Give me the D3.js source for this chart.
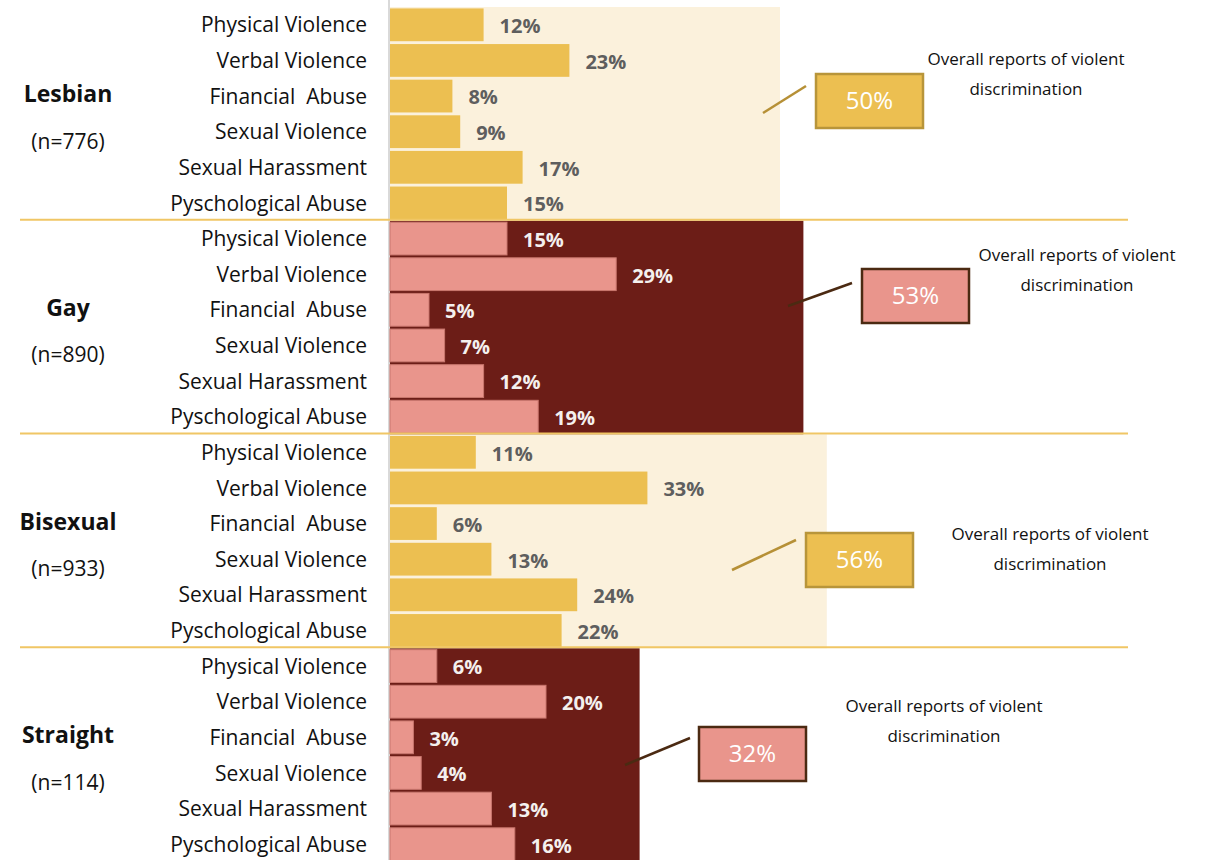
<!DOCTYPE html>
<meta charset="utf-8">
<style>
body {
  margin: 0;
  background: #ffffff;
  font-family: 'Open Sans', sans-serif;
}
svg {
  display: block;
}
text.cat {
  font-size: 21px;
  fill: #111111;
  white-space: pre;
}
text.group {
  font-size: 23px;
  font-weight: 700;
  fill: #111111;
}
text.n {
  font-size: 21px;
  fill: #111111;
}
text.value {
  font-size: 20px;
  font-weight: 700;
}
text.big {
  font-size: 24px;
  fill: #ffffff;
}
text.note {
  font-size: 17px;
  fill: #111111;
}
</style>
<body>
<svg width="1212" height="860"></svg>

<script src="https://d3js.org/d3.v7.min.js"></script>
<script>

    const categories = ["Physical Violence", "Verbal Violence", "Financial  Abuse",
                        "Sexual Violence", "Sexual Harassment", "Pyschological Abuse"];
    const groups = ["Lesbian", "Gay", "Bisexual", "Straight"];
    const sampleSizes = ["(n=776)", "(n=890)", "(n=933)", "(n=114)"];

    const lesbian = [12, 23, 8, 9, 17, 15];
    const gay = [15, 29, 5, 7, 12, 19];
    const bisexual = [11, 33, 6, 13, 24, 22];
    const straight = [6, 20, 3, 4, 13, 16];
    const overall = [50, 53, 56, 32];
    const noteLines = ["Overall reports of violent", "discrimination"];

    const series = [lesbian, gay, bisexual, straight];

    // layout of the callout boxes (not data)
    const callouts = [
      { bx: 816, by: 74, l: [763, 113, 806, 86], tx: 1026, ty: 60 },
      { bx: 862, by: 269, l: [788, 306, 852, 283], tx: 1077, ty: 256 },
      { bx: 806, by: 533, l: [732, 570, 796, 540], tx: 1050, ty: 535 },
      { bx: 699, by: 727, l: [625, 765, 690, 738], tx: 944, ty: 707 }
    ];

    const gold = '#ECBF51', cream = '#FBF1DC';
    const pink = '#E9958C', maroon = '#6C1D17';

    const svg = d3.select('svg');

    const rows = [];
    groups.forEach((g, gi) => {
      categories.forEach((c, ci) => {
        rows.push({ key: g + '|' + c, group: gi, cat: c, value: series[gi][ci] });
      });
    });

    const x = d3.scaleLinear()
      .domain([0, 100])
      .range([390, 390 + 780]);

    const y = d3.scaleBand()
      .domain(rows.map(d => d.key))
      .range([7, 862])
      .paddingInner(0.08)
      .paddingOuter(0.04);

    const gy = d3.scaleBand()
      .domain(groups)
      .range([7, 862]);

    // group backgrounds = overall share
    svg.append('g')
      .selectAll('rect')
      .data(groups)
      .join('rect')
      .attr('x', x(0))
      .attr('y', d => gy(d))
      .attr('width', (d, i) => x(overall[i]) - x(0))
      .attr('height', gy.bandwidth())
      .attr('fill', (d, i) => i % 2 ? maroon : cream);

    // axis line
    svg.append('line')
      .attr('x1', x(0) - 1).attr('x2', x(0) - 1)
      .attr('y1', 0).attr('y2', 860)
      .attr('stroke', '#D9D9D9')
      .attr('stroke-width', 2);

    // bars
    svg.append('g')
      .selectAll('rect')
      .data(rows)
      .join('rect')
      .attr('x', x(0))
      .attr('y', d => y(d.key))
      .attr('width', d => x(d.value) - x(0))
      .attr('height', y.bandwidth())
      .attr('fill', d => d.group % 2 ? pink : gold)
      .attr('stroke', d => d.group % 2 ? '#C9776E' : 'none')
      .attr('stroke-width', 1);

    // value labels
    svg.append('g')
      .selectAll('text')
      .data(rows)
      .join('text')
      .attr('class', 'value')
      .attr('x', d => x(d.value) + 16)
      .attr('y', d => y(d.key) + y.bandwidth() / 2 + 3)
      .attr('dominant-baseline', 'middle')
      .attr('fill', d => d.group % 2 ? '#F4F0EE' : '#5E5E5E')
      .text(d => d.value + '%');

    // category labels
    svg.append('g')
      .selectAll('text')
      .data(rows)
      .join('text')
      .attr('class', 'cat')
      .attr('x', 367)
      .attr('y', d => y(d.key) + y.bandwidth() / 2 + 2)
      .attr('text-anchor', 'end')
      .attr('dominant-baseline', 'middle')
      .text(d => d.cat);

    // group separators
    svg.append('g')
      .selectAll('line')
      .data(groups.slice(1))
      .join('line')
      .attr('x1', 20).attr('x2', 1128)
      .attr('y1', d => gy(d) - 1)
      .attr('y2', d => gy(d) - 1)
      .attr('stroke', '#F0C665')
      .attr('stroke-width', 2);

    // group names
    const gl = svg.append('g')
      .selectAll('g')
      .data(groups)
      .join('g')
      .attr('transform', d => `translate(68, ${gy(d) + gy.bandwidth() / 2})`);

    gl.append('text')
      .attr('class', 'group')
      .attr('y', -18)
      .attr('text-anchor', 'middle')
      .attr('dominant-baseline', 'middle')
      .text(d => d);

    gl.append('text')
      .attr('class', 'n')
      .attr('y', 29)
      .attr('text-anchor', 'middle')
      .attr('dominant-baseline', 'middle')
      .text((d, i) => sampleSizes[i]);

    // callouts
    const co = svg.append('g')
      .selectAll('g')
      .data(callouts)
      .join('g');

    co.append('line')
      .attr('x1', d => d.l[0]).attr('y1', d => d.l[1])
      .attr('x2', d => d.l[2]).attr('y2', d => d.l[3])
      .attr('stroke', (d, i) => i % 2 ? '#4B2A12' : '#B69036')
      .attr('stroke-width', 2.5);

    co.append('rect')
      .attr('x', d => d.bx)
      .attr('y', d => d.by)
      .attr('width', 107)
      .attr('height', 54)
      .attr('fill', (d, i) => i % 2 ? pink : gold)
      .attr('stroke', (d, i) => i % 2 ? '#4B2A12' : '#B8953A')
      .attr('stroke-width', 2.5);

    co.append('text')
      .attr('class', 'big')
      .attr('x', d => d.bx + 53.5)
      .attr('y', d => d.by + 29)
      .attr('text-anchor', 'middle')
      .attr('dominant-baseline', 'middle')
      .text((d, i) => overall[i] + '%');

    co.append('text')
      .attr('class', 'note')
      .attr('text-anchor', 'middle')
      .selectAll('tspan')
      .data(d => noteLines.map(t => ({ t: t, d: d })))
      .join('tspan')
      .attr('x', o => o.d.tx)
      .attr('y', (o, j) => o.d.ty + j * 30)
      .attr('dominant-baseline', 'middle')
      .text(o => o.t);

</script>
</body>
